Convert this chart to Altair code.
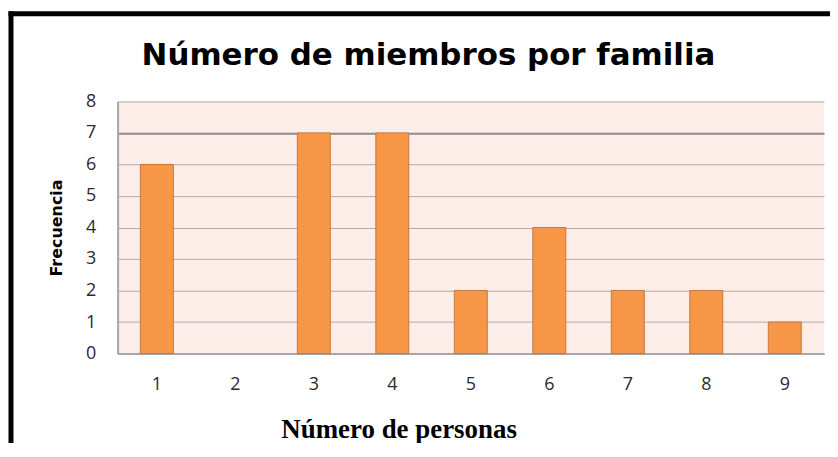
import altair as alt
import pandas as pd

personas = ["1", "2", "3", "4", "5", "6", "7", "8", "9"]
frecuencia = [6, 0, 7, 7, 2, 4, 2, 2, 1]
y_ticks = [0, 1, 2, 3, 4, 5, 6, 7, 8]
titulo = "Número de miembros por familia"
x_titulo = "Número de personas"
y_titulo = "Frecuencia"

df = pd.DataFrame({"personas": personas, "frecuencia": frecuencia})

bars = alt.Chart(df).transform_filter("datum.frecuencia > 0").mark_bar(
    color="#F79646", stroke="#C9773A", strokeWidth=1
).encode(
    x=alt.X(
        "personas:N",
        sort=personas,
        scale=alt.Scale(domain=personas, paddingInner=0.58, paddingOuter=0.29),
        axis=alt.Axis(
            title=x_titulo,
            titleFont="Liberation Serif",
            titleFontSize=27,
            titleFontWeight="bold",
            titleColor="#000000",
            titleX=282,
            titleY=84,
            titleAlign="center",
            titleBaseline="alphabetic",
            labelAngle=0,
            labelFont="Open Sans",
            labelFontSize=18,
            labelColor="#2b2b2b",
            labelPadding=22,
            ticks=False,
            domainColor="#a6a6a6",
            domainWidth=2,
        ),
    ),
    y=alt.Y(
        "frecuencia:Q",
        scale=alt.Scale(domain=[0, 8], nice=False),
        axis=alt.Axis(
            values=y_ticks,
            title=y_titulo,
            titleFont="DejaVu Sans",
            titleFontSize=16,
            titleFontWeight="bold",
            titleColor="#000000",
            titleAngle=270,
            titleX=-61,
            titleY=126.5,
            titleAlign="center",
            titleBaseline="middle",
            labelFont="Open Sans",
            labelFontSize=18,
            labelColor="#2b2b2b",
            labelPadding=22,
            ticks=False,
            domainColor="#a6a6a6",
            domainWidth=2,
            grid=True,
            gridColor={
                "condition": {"test": "datum.value === 7", "value": "#8c8c8c"},
                "value": "#b0acac",
            },
            gridWidth={
                "condition": {"test": "datum.value === 7", "value": 2},
                "value": 1,
            },
        ),
    ),
)

one = alt.Data(values=[{"k": 1}])

title_mark = alt.Chart(one).mark_text(
    text=titulo,
    font="DejaVu Sans",
    fontSize=31,
    fontWeight="bold",
    color="#000000",
    align="center",
    baseline="alphabetic",
).encode(x=alt.value(312), y=alt.value(-37))

frame_left = alt.Chart(one).mark_rule(color="#000000", strokeWidth=5).encode(
    x=alt.value(-107), y=alt.value(-90.5), y2=alt.value(400)
)
frame_top = alt.Chart(one).mark_rule(color="#000000", strokeWidth=5).encode(
    y=alt.value(-88), x=alt.value(-109.5), x2=alt.value(800)
)

chart = alt.layer(bars, title_mark, frame_left, frame_top).properties(
    width=709,
    height=253,
    padding={"left": 110, "top": 93, "right": 6, "bottom": 89},
    autosize=alt.AutoSizeParams(type="none"),
    background="#ffffff",
).configure_view(
    fill="#FDEDE8", stroke=None
)

chart.save("out.html", embed_options={"renderer": "svg", "actions": False})
